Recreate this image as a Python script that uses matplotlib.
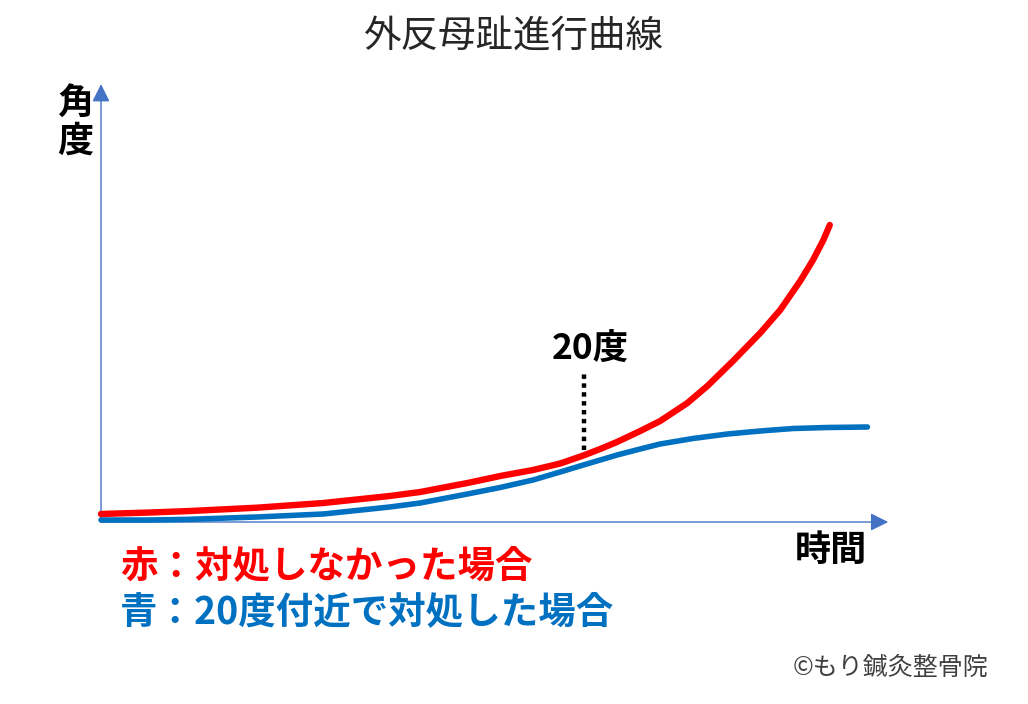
import matplotlib
matplotlib.use("Agg")
import matplotlib.pyplot as plt
from matplotlib.patches import ArrowStyle

plt.rcParams['font.family'] = ['Noto Sans CJK JP', 'DejaVu Sans']

# ---- data (time units, angle in degrees) ----
red_t = [0.0, 0.61, 1.11, 1.95, 2.78, 3.61, 3.99, 4.58, 4.99, 5.40, 5.74, 6.03,
         6.24, 6.45, 6.74, 6.99, 7.33, 7.58, 7.90, 8.24, 8.49, 8.74, 8.90, 9.03, 9.11]
red_a = [2.29, 2.71, 3.14, 4.09, 5.43, 7.43, 8.57, 11.14, 13.14, 14.86, 16.71, 19.0,
         20.86, 22.86, 26.0, 28.86, 34.0, 38.86, 46.0, 54.0, 60.57, 68.86, 74.86, 80.57, 84.86]

blue_t = [0.0, 0.61, 1.11, 1.95, 2.78, 3.61, 3.99, 4.58, 4.99, 5.40, 5.74, 6.03,
          6.24, 6.45, 6.74, 6.99, 7.40, 7.83, 8.24, 8.65, 9.08, 9.58]
blue_a = [0.57, 0.57, 0.77, 1.43, 2.29, 4.29, 5.43, 8.0, 9.86, 12.0, 14.29, 16.29,
          17.71, 19.14, 20.86, 22.29, 23.86, 25.14, 26.0, 26.71, 27.0, 27.14]

marker_t = 6.04
marker_a = [20.6, 42.9]
marker_label = "20度"

title = "外反母趾進行曲線"
ylabel = ["角", "度"]
xlabel = "時間"
legend_red = "赤：対処しなかった場合"
legend_blue = "青：20度付近で対処した場合"
credit = "©もり鍼灸整骨院"

t_max = 9.84
a_max = 125.1

W, H = 1028, 704
fig = plt.figure(figsize=(W / 100, H / 100), dpi=100)
ax = fig.add_axes([0, 0, 1, 1])
# map data so origin sits at the drawn axes corner
ax.set_xlim(-101 / 80, (W - 101) / 80)
ax.set_ylim((522 - H) / 3.5, 522 / 3.5)
ax.axis('off')

axis_col = '#4472C4'
style = ArrowStyle('-|>', head_length=0.9, head_width=0.45)
ax.annotate('', xy=(t_max, 0), xytext=(0, 0),
            arrowprops=dict(arrowstyle=style, color=axis_col, lw=1.0,
                            mutation_scale=12, shrinkA=0, shrinkB=0))
ax.annotate('', xy=(0, a_max), xytext=(0, 0),
            arrowprops=dict(arrowstyle=style, color=axis_col, lw=1.0,
                            mutation_scale=12, shrinkA=0, shrinkB=0))

ax.plot(blue_t, blue_a, color='#0070C0', lw=4.0, solid_capstyle='round',
        solid_joinstyle='round', zorder=3)
ax.plot(red_t, red_a, color='#FF0000', lw=4.6, solid_capstyle='round',
        solid_joinstyle='round', zorder=4)

ax.plot([marker_t, marker_t], marker_a, color='black', lw=3.2,
        linestyle=(0, (1, 1)), dash_capstyle='butt', zorder=2)


def ftext(x, y, s, **kw):
    fig.text(x / W, 1 - y / H, s, ha='center', va='center', **kw)


ftext(590, 348, marker_label, fontsize=25.5, fontweight='bold', color='black')
ftext(514, 36, title, fontsize=27, color='#262626')
ftext(75, 103, ylabel[0], fontsize=26, fontweight='bold', color='black')
ftext(75, 141, ylabel[1], fontsize=26, fontweight='bold', color='black')
ftext(831, 550, xlabel, fontsize=26, fontweight='bold', color='black')
fig.text(120 / W, 1 - 566 / H, legend_red, ha='left', va='center',
         fontsize=27, fontweight='bold', color='#FF0000')
fig.text(120 / W, 1 - 612 / H, legend_blue, ha='left', va='center',
         fontsize=27, fontweight='bold', color='#0070C0')
fig.text(988 / W, 1 - 668 / H, credit, ha='right', va='center',
         fontsize=18, color='#404040')

fig.savefig('out.png', dpi=100, facecolor='white')
